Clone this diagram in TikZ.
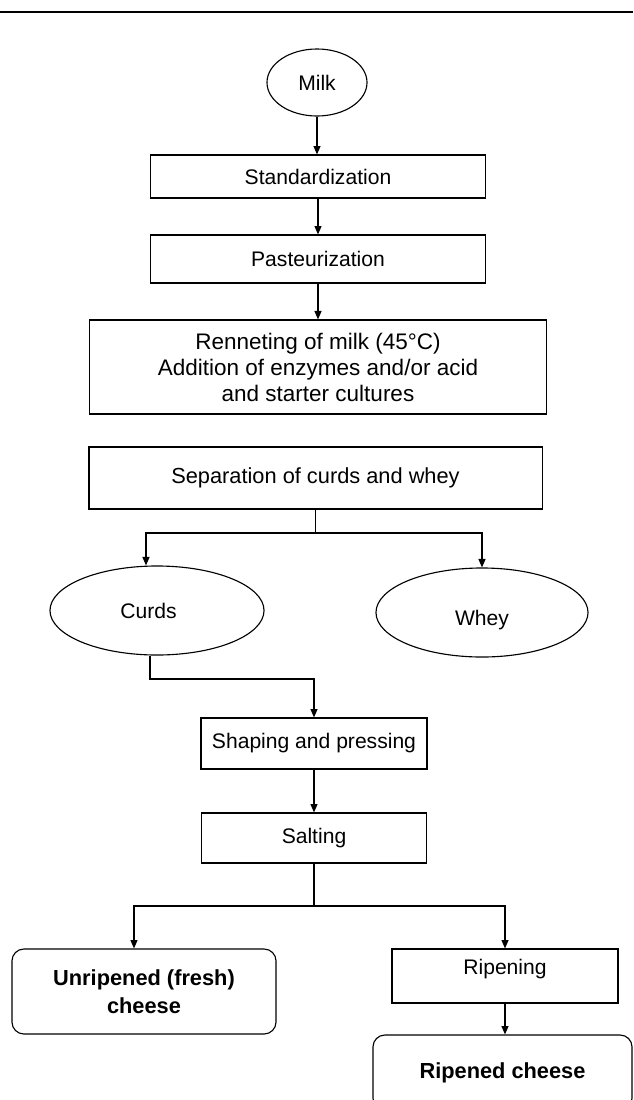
\documentclass[tikz,border=0pt]{standalone}
\usepackage{fontspec}
\setmainfont{Liberation Sans}
\usetikzlibrary{positioning,arrows.meta,shapes.geometric}

\tikzset{
  stagebox/.style={draw, line width=0.8pt, align=center, inner sep=0pt,
    font=\fontsize{15}{18}\selectfont},
  oval/.style={stagebox, ellipse},
  product/.style={stagebox, rounded corners=0.3cm,
    font=\fontsize{15.5}{20}\selectfont\bfseries},
  flow/.style={line width=0.8pt, -{Triangle[length=6pt,width=5pt]}},
}

\begin{document}
\begin{tikzpicture}[x=0.025cm,y=-0.025cm]
        \clip (0,0) rectangle (633,1100);
        \draw[line width=1pt] (0,12) -- (633,12);

        % milk treatment
        \node[oval, minimum width=2.5cm, minimum height=1.675cm] (milk) at (317,82.5) {Milk};
        \node[stagebox, minimum width=8.375cm, minimum height=1.075cm] (std) at (318,176.5) {Standardization};
        \node[stagebox, minimum width=8.375cm, minimum height=1.2cm] (past) at (318,259) {Pasteurization};
        \node[stagebox, minimum width=11.425cm, minimum height=2.35cm,
              font=\fontsize{16}{18.5}\selectfont] (renn) at (318,367)
             {Renneting of milk (45°C)\\Addition of enzymes and/or acid\\and starter cultures};
        \node[stagebox, minimum width=11.325cm, minimum height=1.55cm,
              font=\fontsize{15.5}{18}\selectfont] (sep) at (315.5,478) {Separation of curds and whey};

        \draw[flow] (milk.south) -- (milk.south |- std.north);
        \draw[flow] (std) -- (past);
        \draw[flow] (past) -- (renn);

        % curds and whey
        \node[oval, minimum width=5.35cm, minimum height=2.225cm] (curds) at (157,610.5) {Curds\hspace{0.42cm}};
        \node[oval, minimum width=5.3cm, minimum height=2.225cm] (whey) at (482,612.5) {\raisebox{-0.2cm}[\height][\depth]{Whey}};
        \coordinate (fork) at (315.5,533);
        \draw[line width=0.8pt] (sep) -- (fork);
        \draw[flow] (fork) -| ([xshift=-0.275cm]curds.north);
        \draw[flow] (fork) -| (whey);

        % cheese making
        \node[stagebox, minimum width=5.65cm, minimum height=1.275cm] (shape) at (314,743.5) {Shaping and pressing};
        \node[stagebox, minimum width=5.625cm, minimum height=1.25cm] (salt) at (314,838) {Salting};
        \coordinate (elbow) at (314,679);
        \draw[flow] ([xshift=-0.175cm]curds.south) |- (elbow) -- (shape.north);
        \draw[flow] (shape) -- (salt);

        % end products
        \node[product, minimum width=6.6cm, minimum height=2.125cm] (fresh) at (144,991.5) {Unripened (fresh)\\cheese};
        \node[stagebox, minimum width=5.65cm, minimum height=1.35cm] (ripening) at (505,976) {\raisebox{0.18cm}[\height][\depth]{Ripening}};
        \node[product, minimum width=6.475cm, minimum height=1.875cm] (ripened) at (502.5,1072.5) {Ripened cheese};
        \coordinate (fork2) at (314,906);
        \draw[line width=0.8pt] (salt) -- (fork2);
        \draw[flow] (fork2) -| ([xshift=-0.25cm]fresh.north);
        \draw[flow] (fork2) -| (ripening);
        \draw[flow] (ripening.south) -- (ripening.south |- ripened.north);
\end{tikzpicture}
\end{document}
